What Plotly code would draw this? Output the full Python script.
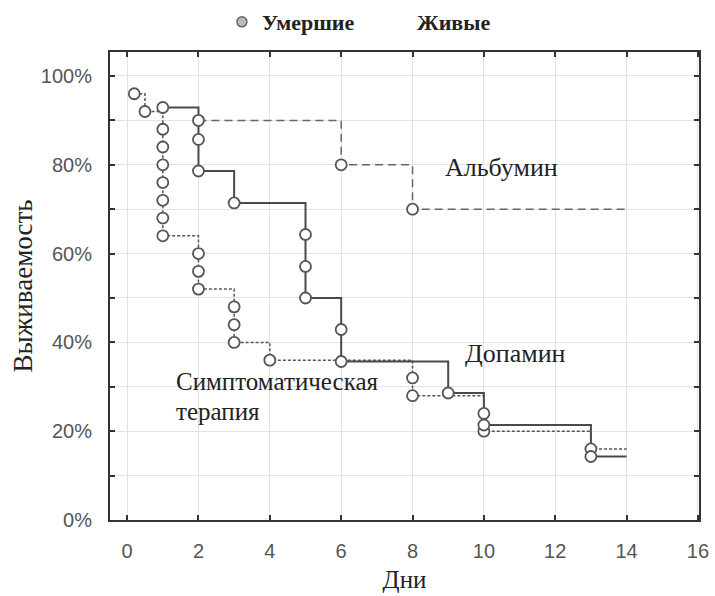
import plotly.graph_objects as go

# ---- data ----
# Symptomatic therapy: death times and survival after each death
symp_days = [0.2, 0.5, 1, 1, 1, 1, 1, 1, 1, 2, 2, 2, 3, 3, 3, 4, 8, 8, 10, 10, 13]
symp_surv = [0.96, 0.92, 0.88, 0.84, 0.80, 0.76, 0.72, 0.68, 0.64, 0.60, 0.56, 0.52,
             0.48, 0.44, 0.40, 0.36, 0.32, 0.28, 0.24, 0.20, 0.16]
symp_end = 14

# Dopamine
dopa_days = [1, 2, 2, 3, 5, 5, 5, 6, 6, 9, 10, 13]
dopa_surv = [0.929, 0.857, 0.786, 0.714, 0.643, 0.571, 0.500, 0.429, 0.357, 0.286, 0.214, 0.143]
dopa_end = 14

# Albumin
alb_days = [2, 6, 8]
alb_surv = [0.90, 0.80, 0.70]
alb_end = 14

x_ticks = [0, 2, 4, 6, 8, 10, 12, 14, 16]
y_ticks = [0, 0.1, 0.2, 0.3, 0.4, 0.5, 0.6, 0.7, 0.8, 0.9, 1.0]
y_ticktext = ["0%", "", "20%", "", "40%", "", "60%", "", "80%", "", "100%"]

line_col = "#4a4a4a"
marker_col = "#555555"
serif = "Liberation Serif"
sans = "Liberation Sans"

fig = go.Figure()

def add_group(days, surv, end, dash, width, color):
    xs = list(days) + [end]
    ys = list(surv) + [surv[-1]]
    fig.add_trace(go.Scatter(x=xs, y=ys, mode="lines", line_shape="hv",
                             line=dict(color=color, width=width, dash=dash),
                             showlegend=False, hoverinfo="skip"))

add_group(alb_days, alb_surv, alb_end, "8px,5px", 1.5, "#666666")
add_group(symp_days, symp_surv, symp_end, "3px,2px", 1.5, "#555555")
add_group(dopa_days, dopa_surv, dopa_end, "solid", 2, line_col)

for d, s in [(alb_days, alb_surv), (symp_days, symp_surv), (dopa_days, dopa_surv)]:
    fig.add_trace(go.Scatter(x=d, y=s, mode="markers",
                             marker=dict(symbol="circle", size=11, color="white",
                                         line=dict(color=marker_col, width=1.8)),
                             showlegend=False, hoverinfo="skip"))

# legend entries
fig.add_trace(go.Scatter(x=[None], y=[None], mode="markers", name="Умершие",
                         marker=dict(symbol="circle", size=10, color="#bbbbbb",
                                     line=dict(color="#666666", width=1.5))))
fig.add_trace(go.Scatter(x=[None], y=[None], mode="markers", name="Живые",
                         marker=dict(symbol="circle", size=1, color="rgba(0,0,0,0)",
                                     line=dict(width=0))))

ann_font = dict(family=serif, size=26, color="#222222")
sym_font = dict(family=serif, size=25, color="#222222")
fig.add_annotation(x=10.5, y=0.793, text="Альбумин", showarrow=False, font=ann_font,
                   xanchor="center", yanchor="middle")
fig.add_annotation(x=10.9, y=0.376, text="Допамин", showarrow=False, font=ann_font,
                   xanchor="center", yanchor="middle")
fig.add_annotation(x=1.3, y=0.311, text="Симптоматическая", showarrow=False, font=sym_font,
                   xanchor="left", yanchor="middle")
fig.add_annotation(x=1.3, y=0.244, text="терапия", showarrow=False, font=sym_font,
                   xanchor="left", yanchor="middle")

axis_common = dict(showline=True, linecolor="#333333", linewidth=2, mirror="ticks",
                   ticks="inside", ticklen=5, tickcolor="#333333", tickwidth=1.5,
                   showgrid=True, gridcolor="#e3e3e3", gridwidth=1, zeroline=False,
                   tickfont=dict(family=sans, size=20, color="#555555"))

fig.update_xaxes(range=[-0.48, 16.03], tickvals=x_ticks, ticklabelstandoff=12,
                 title=dict(text="Дни", font=dict(family=serif, size=25, color="#222222"),
                            standoff=9),
                 **axis_common)
fig.update_yaxes(range=[0, 1.054], tickvals=y_ticks, ticktext=y_ticktext,
                 ticklabelstandoff=12,
                 title=dict(text="Выживаемость", font=dict(family=serif, size=27, color="#222222"),
                            standoff=0),
                 **axis_common)

fig.update_layout(
    width=715, height=596,
    margin=dict(l=110, r=16, t=52, b=76, autoexpand=False),
    paper_bgcolor="white", plot_bgcolor="white",
    legend=dict(orientation="h", x=0.19, xanchor="left", y=1.064, yanchor="middle",
                font=dict(family=serif, size=22, color="#222222", weight="bold"),
                entrywidth=110, entrywidthmode="pixels", bgcolor="rgba(0,0,0,0)"),
)

fig.write_html("out.html", config={"displayModeBar": False},
               post_script="document.body.style.margin='0';")
